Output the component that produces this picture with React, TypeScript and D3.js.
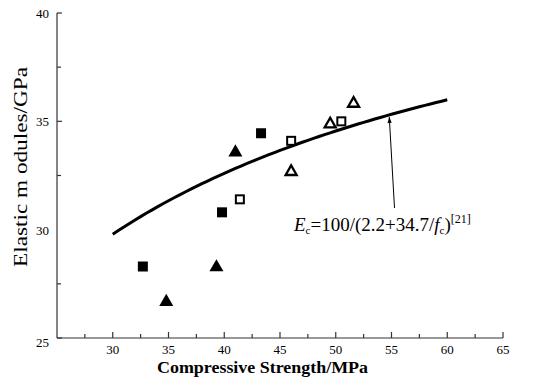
import React from "react";
import * as d3 from "d3";

const filledSquareX = [32.7, 39.8, 43.3];
const filledSquareY = [28.3, 30.8, 34.45];
const openSquareX = [41.4, 46.0, 50.5];
const openSquareY = [31.4, 34.1, 35.0];
const filledTriX = [34.8, 39.3, 41.0];
const filledTriY = [26.7, 28.3, 33.6];
const openTriX = [46.0, 49.5, 51.6];
const openTriY = [32.7, 34.9, 35.85];

const xMajor = [30, 35, 40, 45, 50, 55, 60, 65];
const xMinor = [27.5, 32.5, 37.5, 42.5, 47.5, 52.5, 57.5, 62.5];
const yMajor = [25, 35, 40];
const yMinor = [27.5, 32.5, 37.5];
const yLabels = [25, 30, 35, 40];

// Ec = 100 / (2.2 + 34.7 / fc), fc from 30 to 60
const curveFc = d3.range(30, 60.01, 0.5);

const width = 533;
const height = 380;

const App = () => {
  const x = d3.scaleLinear().domain([25, 65]).range([57, 503]);
  const y = d3.scaleLinear().domain([25, 40]).range([338, 13]);

  const line = d3
    .line<number>()
    .x(d => x(d))
    .y(d => y(100 / (2.2 + 34.7 / d)));

  const sq = 10;
  const tri = (cx: number, cy: number, s: number) => {
    const h = s * 0.87;
    return `M${cx},${cy - h * 0.6}L${cx + s / 2},${cy + h * 0.4}L${cx - s / 2},${cy + h * 0.4}Z`;
  };

  const arrowFc = 54.8;
  const ax = x(arrowFc);
  const ay = y(100 / (2.2 + 34.7 / arrowFc)) + 2;

  const serif = "'Liberation Serif', 'Times New Roman', serif";

  return (
    <svg
      width={width}
      height={height}
      style={{ position: "absolute", left: 0, top: 0, background: "#fff" }}
      fontFamily={serif}
    >
      {/* axes */}
      <g stroke="#333" strokeWidth={1.2} fill="none">
        <line x1={x(25)} x2={x(25)} y1={y(40)} y2={y(25)} />
        <line x1={x(25)} x2={x(65)} y1={y(25)} y2={y(25)} />
        {xMajor.map(v => (
          <line key={"xM" + v} x1={x(v)} x2={x(v)} y1={y(25)} y2={y(25) - 6} />
        ))}
        {xMinor.map(v => (
          <line key={"xm" + v} x1={x(v)} x2={x(v)} y1={y(25)} y2={y(25) - 4} />
        ))}
        {yMajor.map(v => (
          <line key={"yM" + v} x1={x(25)} x2={x(25) + 5} y1={y(v)} y2={y(v)} />
        ))}
        {yMinor.map(v => (
          <line key={"ym" + v} x1={x(25)} x2={x(25) + 4} y1={y(v)} y2={y(v)} />
        ))}
      </g>

      {/* tick labels */}
      <g fontSize={13} fill="#000">
        {xMajor.map(v => (
          <text key={"xl" + v} x={x(v)} y={354} textAnchor="middle">
            {v}
          </text>
        ))}
        {yLabels.map(v => (
          <text
            key={"yl" + v}
            x={49}
            y={v === 25 ? y(v) + 9 : y(v) + 5}
            textAnchor="end"
          >
            {v}
          </text>
        ))}
      </g>

      {/* axis titles */}
      <text
        x={157}
        y={373}
        fontSize={16}
        fontWeight="bold"
        textLength={211}
        lengthAdjust="spacingAndGlyphs"
      >
        Compressive Strength/MPa
      </text>
      <text
        transform="translate(27,167) rotate(-90)"
        textAnchor="middle"
        fontSize={19}
        textLength={200}
        lengthAdjust="spacingAndGlyphs"
      >
        Elastic m odules/GPa
      </text>

      {/* fitted curve */}
      <path d={line(curveFc) || ""} fill="none" stroke="#000" strokeWidth={3} />

      {/* markers */}
      {filledSquareX.map((v, i) => (
        <rect
          key={"fs" + i}
          x={x(v) - sq / 2}
          y={y(filledSquareY[i]) - sq / 2}
          width={sq}
          height={sq}
          fill="#000"
        />
      ))}
      {openSquareX.map((v, i) => (
        <rect
          key={"os" + i}
          x={x(v) - (sq - 2) / 2}
          y={y(openSquareY[i]) - (sq - 2) / 2}
          width={sq - 2}
          height={sq - 2}
          fill="#fff"
          stroke="#000"
          strokeWidth={2}
        />
      ))}
      {filledTriX.map((v, i) => (
        <path key={"ft" + i} d={tri(x(v), y(filledTriY[i]), 14)} fill="#000" />
      ))}
      {openTriX.map((v, i) => (
        <path
          key={"ot" + i}
          d={tri(x(v), y(openTriY[i]), 11)}
          fill="#fff"
          stroke="#000"
          strokeWidth={2.3}
          strokeLinejoin="miter"
        />
      ))}

      {/* annotation */}
      <defs>
        <marker
          id="arr"
          viewBox="0 0 10 10"
          refX={10}
          refY={5}
          markerWidth={6}
          markerHeight={8}
          orient="auto"
        >
          <path d="M0,1.5L10,5L0,8.5Z" fill="#000" />
        </marker>
      </defs>
      <line
        x1={394.5}
        y1={208}
        x2={ax}
        y2={ay}
        stroke="#000"
        strokeWidth={1}
        markerEnd="url(#arr)"
      />
      <text x={294} y={231} fontSize={19} fill="#000">
        <tspan fontStyle="italic">E</tspan>
        <tspan fontSize={11} dy={3}>c</tspan>
        <tspan dy={-3}>=100/(2.2+34.7/</tspan>
        <tspan fontStyle="italic">f</tspan>
        <tspan fontSize={11} dy={3}>c</tspan>
        <tspan dy={-3}>)</tspan>
        <tspan fontSize={12} dy={-8}>[21]</tspan>
      </text>
    </svg>
  );
};

export default App;
